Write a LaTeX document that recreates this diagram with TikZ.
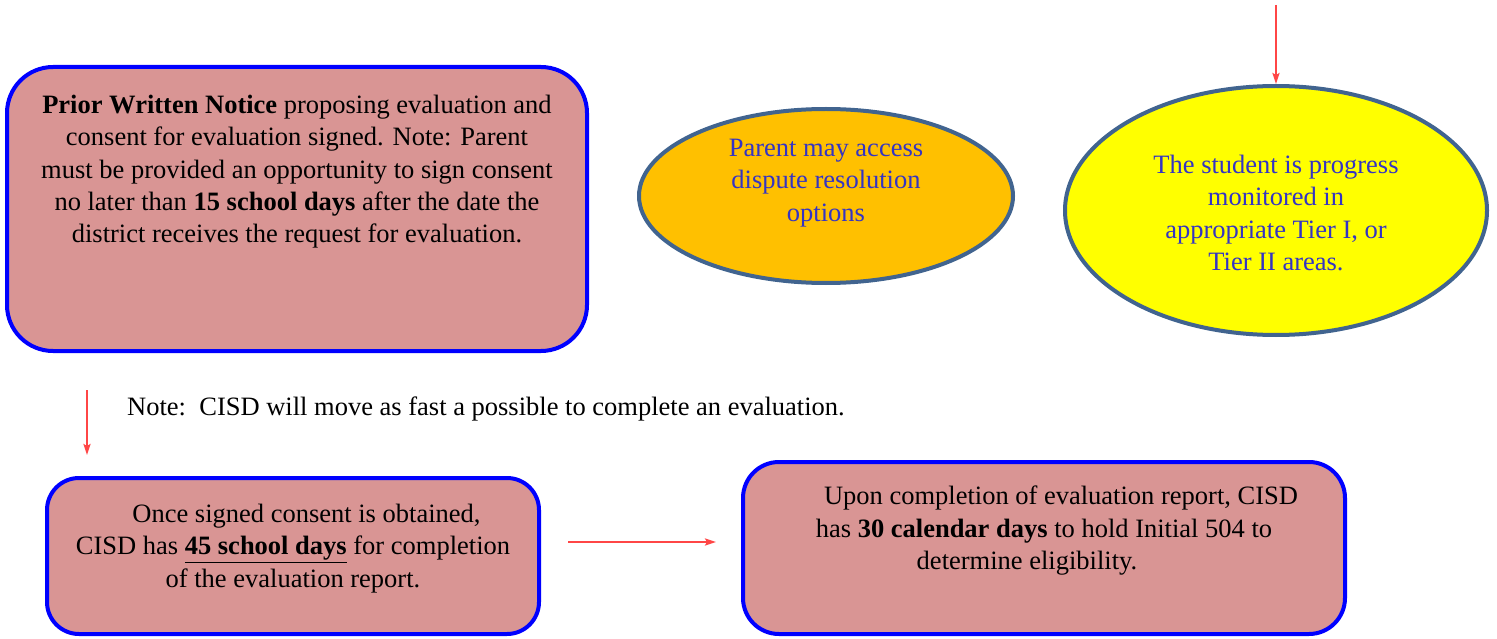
\documentclass[tikz,border=0pt]{standalone}
\usepackage{fontspec}
\setmainfont{Liberation Serif}
\usetikzlibrary{arrows.meta,shapes.geometric}

\definecolor{boxfill}{HTML}{D99594}
\definecolor{boxline}{HTML}{0000FF}
\definecolor{ovalline}{HTML}{41648F}
\definecolor{gold}{HTML}{FFC000}
\definecolor{lemon}{HTML}{FFFF00}
\definecolor{ovaltext}{HTML}{3434C4}
\definecolor{linkred}{HTML}{FF4646}

\tikzset{
  stepbox/.style={draw=boxline, line width=4pt, fill=boxfill},
  oval/.style={draw=ovalline, line width=4pt},
  body/.style={font=\fontsize{26.5}{32.3}\selectfont, align=center, inner sep=0pt, anchor=north},
  link/.style={draw=linkred, line width=2pt, -{Stealth[length=11pt,width=7pt,inset=2pt]}},
}

\begin{document}
\begin{tikzpicture}[x=1pt, y=-1pt]
\useasboundingbox (0,0) rectangle (1497,639);

% --- boxes and ovals ---
\draw[stepbox, rounded corners=46pt] (7,67) rectangle (587,351);
\node[body] (pwn) at (297,95)
  {\textbf{Prior Written Notice} proposing evaluation and\\
   consent for evaluation signed. Note: Parent\\
   must be provided an opportunity to sign consent\\
   no later than \textbf{15 school days} after the date the\\
   district receives the request for evaluation.};

\node[oval, ellipse, fill=gold, minimum width=374pt, minimum height=174pt, inner sep=0pt] (dispute) at (826,196) {};
\node[body, text=ovaltext] (disputeText) at (826,139)
  {Parent may access\\ dispute resolution\\ options};

\node[oval, ellipse, fill=lemon, minimum width=422pt, minimum height=249pt, inner sep=0pt] (monitor) at (1276,210.5) {};
\node[body, text=ovaltext] (monitorText) at (1276,155)
  {The student is progress\\ monitored in\\ appropriate Tier I, or\\ Tier II areas.};

\node[font=\fontsize{26.5}{32.3}\selectfont, inner sep=0pt, anchor=base west] (note) at (127,415)
  {Note:\ \ CISD will move as fast a possible to complete an evaluation.};

\draw[stepbox, rounded corners=32pt] (47,478) rectangle (539,634);
\node[body] (consent) at (293,504)
  {\hspace*{27pt}Once signed consent is obtained,\\
   CISD has \underline{\textbf{45 school days}} for completion\\
   of the evaluation report.};

\draw[stepbox, rounded corners=36pt] (743,462) rectangle (1345,634);
\node[body] (eligibility) at (1044,486)
  {\hspace*{34pt}Upon completion of evaluation report, CISD\\
   has \textbf{30 calendar days} to hold Initial 504 to\\
   determine eligibility.\hspace*{34pt}};

% --- connectors ---
\coordinate (topStart) at (1276,5);
\coordinate (downStart) at (87,390);
\coordinate (downEnd) at (87,455);
\coordinate (rightStart) at (568,542);
\coordinate (rightEnd) at (716,542);

\draw[link] (topStart) -- (monitor.north);
\draw[link] (downStart) -- (downEnd);
\draw[link] (rightStart) -- (rightEnd);
\end{tikzpicture}
\end{document}
